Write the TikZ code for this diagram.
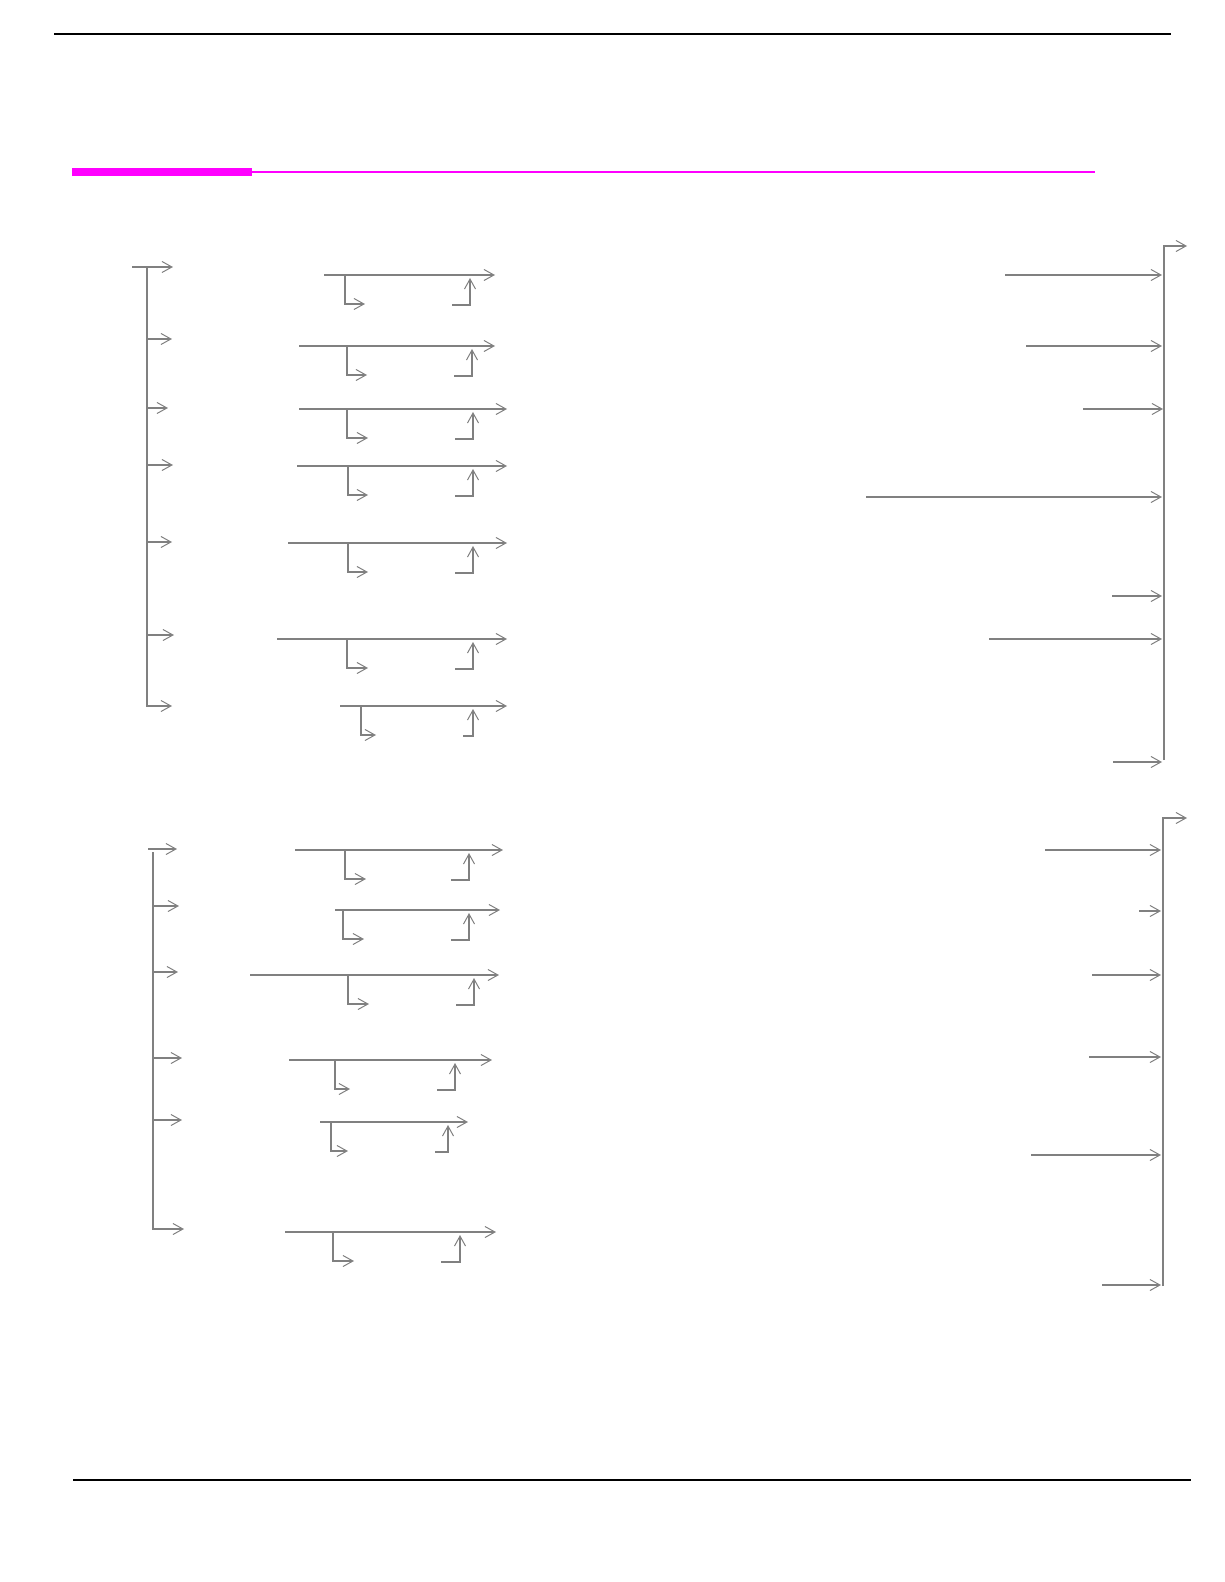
\documentclass[tikz,border=0pt]{standalone}
\usetikzlibrary{arrows.meta}
\definecolor{linegray}{RGB}{128,128,128}
\definecolor{rulemag}{RGB}{255,0,255}
\newcommand\grp[8]{%
  \coordinate (#1a) at (#2,#4);
  \coordinate (#1b) at (#3,#4);
  \coordinate (#1c) at (#5,#4);
  \coordinate (#1d) at (#5,#4+29);
  \coordinate (#1e) at (#6,#4+29);
  \coordinate (#1f) at (#7,#4+30);
  \coordinate (#1g) at (#8,#4+30);
  \coordinate (#1h) at (#8,#4+3);
  \draw[conn] (#1a) -- (#1b);
  \draw[conn] (#1c) -- (#1d) -- (#1e);
  \draw[conn] (#1f) -- (#1g) -- (#1h);
}
\newcommand\inarrow[4]{%
  \coordinate (#1s) at (#2,#4);
  \coordinate (#1t) at (#3,#4);
  \draw[conn] (#1s) -- (#1t);
}
\begin{document}
\begin{tikzpicture}[x=0.5pt,y=-0.5pt,
  conn/.style={draw=linegray,line width=0.6pt,-{Straight Barb[length=5pt,width=5.5pt,line width=0.5pt]}},
  rulel/.style={draw=black,line width=0.8pt}]
\useasboundingbox (0,0) rectangle (1224,1582);
% page rules
\coordinate (topl) at (54,34); \coordinate (topr) at (1171,34);
\draw[rulel] (topl) -- (topr);
\coordinate (botl) at (73,1480); \coordinate (botr) at (1191,1480);
\draw[rulel] (botl) -- (botr);
% magenta heading rule
\coordinate (magA) at (72,168); \coordinate (magB) at (252,176);
\fill[rulemag] (magA) rectangle (magB);
\coordinate (magC) at (252,172); \coordinate (magD) at (1095,172);
\draw[rulemag,line width=1pt] (magC) -- (magD);

% ===== upper section =====
% left trunk
\coordinate (LT0) at (132,267); \coordinate (LT0e) at (173,267);
\draw[conn] (LT0) -- (LT0e);
\coordinate (LTtop) at (147,267); \coordinate (LTbot) at (147,706); \coordinate (LTend) at (172,706);
\draw[conn] (LTtop) -- (LTbot) -- (LTend);
\inarrow{la1}{147}{172}{339}
\inarrow{la2}{147}{168}{408}
\inarrow{la3}{147}{173}{465}
\inarrow{la4}{147}{172}{542}
\inarrow{la5}{147}{174}{635}
% groups
\grp{g1}{324}{495}{275}{345}{365}{452}{470}
\grp{g2}{299}{495}{346}{347}{367}{454}{472}
\grp{g3}{299}{507}{409}{347}{368}{455}{473}
\grp{g4}{297}{507}{466}{348}{368}{455}{473}
\grp{g5}{288}{507}{543}{348}{368}{455}{473}
\grp{g6}{277}{507}{639}{347}{368}{455}{473}
\grp{g7}{340}{507}{706}{361}{376}{463}{473}
% right trunk
\coordinate (RTtop) at (1164,760); \coordinate (RTcor) at (1164,246); \coordinate (RTend) at (1187,246);
\draw[conn] (RTtop) -- (RTcor) -- (RTend);
\inarrow{ra1}{1005}{1162}{275}
\inarrow{ra2}{1026}{1162}{346}
\inarrow{ra3}{1083}{1163}{409}
\inarrow{ra4}{866}{1162}{497}
\inarrow{ra5}{1112}{1162}{596}
\inarrow{ra6}{989}{1162}{639}
\inarrow{ra7}{1113}{1162}{762}

% ===== lower section =====
\coordinate (BT0) at (148,849); \coordinate (BT0e) at (177,849);
\draw[conn] (BT0) -- (BT0e);
\coordinate (BTtop) at (153,852); \coordinate (BTbot) at (153,1229); \coordinate (BTend) at (184,1229);
\draw[conn] (BTtop) -- (BTbot) -- (BTend);
\inarrow{lb1}{153}{179}{906}
\inarrow{lb2}{153}{178}{972}
\inarrow{lb3}{153}{182}{1058}
\inarrow{lb4}{153}{182}{1120}
\grp{h1}{295}{503}{850}{345}{366}{451}{469}
\grp{h2}{335}{500}{910}{343}{364}{451}{469}
\grp{h3}{250}{499}{975}{348}{369}{456}{474}
\grp{h4}{289}{492}{1060}{335}{350}{437}{455}
\grp{h5}{320}{468}{1122}{331}{348}{435}{448}
\grp{h6}{285}{496}{1232}{333}{354}{441}{460}
\coordinate (RBtop) at (1163,1286); \coordinate (RBcor) at (1163,818); \coordinate (RBend) at (1187,818);
\draw[conn] (RBtop) -- (RBcor) -- (RBend);
\inarrow{rb1}{1045}{1161}{850}
\inarrow{rb2}{1139}{1161}{911}
\inarrow{rb3}{1092}{1161}{975}
\inarrow{rb4}{1089}{1161}{1057}
\inarrow{rb5}{1031}{1161}{1155}
\inarrow{rb6}{1102}{1161}{1285}
\end{tikzpicture}
\end{document}
